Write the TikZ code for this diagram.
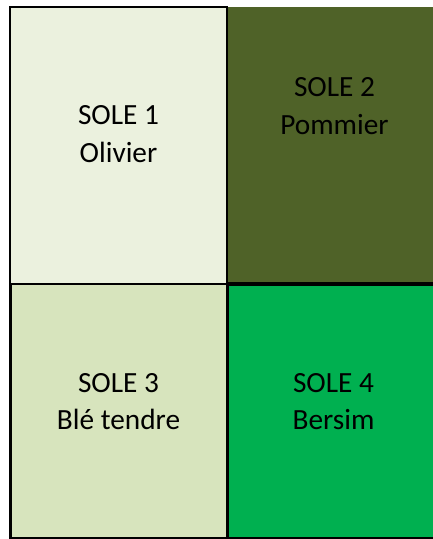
\documentclass[tikz,border=0pt]{standalone}
\usepackage{fontspec}
\setmainfont{Carlito}
\definecolor{cA}{HTML}{EBF1DE}
\definecolor{cB}{HTML}{4F6228}
\definecolor{cC}{HTML}{D7E4BD}
\definecolor{cD}{HTML}{00B050}
\begin{document}
\begin{tikzpicture}[x=1pt,y=-1pt,
  cell/.style={draw=none, inner sep=0pt, outer sep=0pt},
  lbl/.style={font=\fontsize{29.3}{34}\selectfont, anchor=base, inner sep=0pt, text=black},
  thinb/.style={draw=black, line width=2pt, line cap=rect},
  thickb/.style={draw=black, line width=3pt, line cap=rect},
  bottomb/.style={draw=black, line width=1.6pt, line cap=rect}]
\useasboundingbox (0,0) rectangle (433,539);
\node[cell, fill=cA, minimum width=217pt, minimum height=277pt] (s1) at (118.5,145.5) {};
\node[cell, fill=cB, minimum width=206pt, minimum height=277pt] (s2) at (330,145.5) {};
\node[cell, fill=cC, minimum width=217pt, minimum height=254pt] (s3) at (118.5,411) {};
\node[cell, fill=cD, minimum width=206pt, minimum height=254pt] (s4) at (330,411) {};
% borders
\draw[thinb] (s1.south west) -- (s1.north west) -- (s1.north east);
\draw[draw=black, line width=2.5pt, line cap=rect] (s1.north east) -- (s1.south east);
\draw[thinb] (s3.north west) -- (s3.north east);
\draw[draw=black, line width=3.4pt] (s4.north west) -- (s4.north east);
\draw[thickb] (s3.north west) -- (s3.south west);
\draw[thickb] (s3.north east) -- (s3.south east);
\draw[bottomb] (s3.south west) -- (s4.south east);
% labels
\node[lbl] (t1a) at (118.5,124) {SOLE 1};
\node[lbl] (t1b) at (118.5,162.5) {Olivier};
\node[lbl] (t2a) at (334.5,96.5) {SOLE 2};
\node[lbl] (t2b) at (334.5,134.5) {Pommier};
\node[lbl] (t3a) at (118.5,392) {SOLE 3};
\node[lbl] (t3b) at (118.5,429.5) {Blé tendre};
\node[lbl] (t4a) at (333.5,392) {SOLE 4};
\node[lbl] (t4b) at (333.5,429.5) {Bersim};
\end{tikzpicture}
\end{document}
